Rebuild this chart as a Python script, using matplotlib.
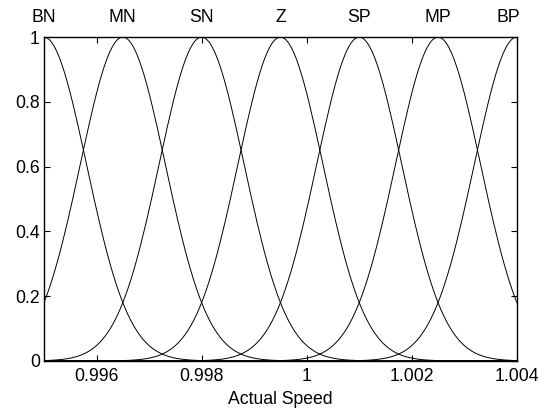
import numpy as np
import matplotlib
matplotlib.use("Agg")
import matplotlib.pyplot as plt

plt.rcParams['font.family'] = ['Liberation Sans', 'DejaVu Sans']

# membership function parameters (gaussian)
mf_names = ['BN', 'MN', 'SN', 'Z', 'SP', 'MP', 'BP']
mf_centers = [0.995, 0.9965, 0.998, 0.9995, 1.001, 1.0025, 1.004]
mf_sigma = 0.00081
x_range = [0.995, 1.004]
xticks = [0.996, 0.998, 1.0, 1.002, 1.004]
xtick_labels = ['0.996', '0.998', '1', '1.002', '1.004']
yticks = [0, 0.2, 0.4, 0.6, 0.8, 1]
ytick_labels = ['0', '0.2', '0.4', '0.6', '0.8', '1']

fz = 12.7

fig = plt.figure(figsize=(5.46, 4.12), dpi=100)
ax = fig.add_axes([0.0806, 0.124, 0.866, 0.786])

x = np.linspace(x_range[0], x_range[1], 181)
for c in mf_centers:
    y = np.exp(-(x - c) ** 2 / (2 * mf_sigma ** 2))
    ax.plot(x, y, color='k', lw=0.7)

for name, c in zip(mf_names, mf_centers):
    xx = c
    if name == 'BP':
        xx = c - 0.00016
    ax.text(xx, 1.062, name, ha='center', va='center', fontsize=fz, clip_on=False)

ax.set_xlim(x_range)
ax.set_ylim(0, 1)
ax.set_xticks(xticks)
ax.set_xticklabels(xtick_labels)
ax.set_yticks(yticks)
ax.set_yticklabels(ytick_labels)
ax.tick_params(direction='in', length=4, width=0.8, top=True, right=True,
               labelsize=fz)
ax.tick_params(axis='y', pad=3)
ax.tick_params(axis='x', pad=5)
for s in ax.spines.values():
    s.set_linewidth(1.0)
ax.set_xlabel('Actual Speed', fontsize=fz, labelpad=4.5)

fig.savefig('out.png', dpi=100)
